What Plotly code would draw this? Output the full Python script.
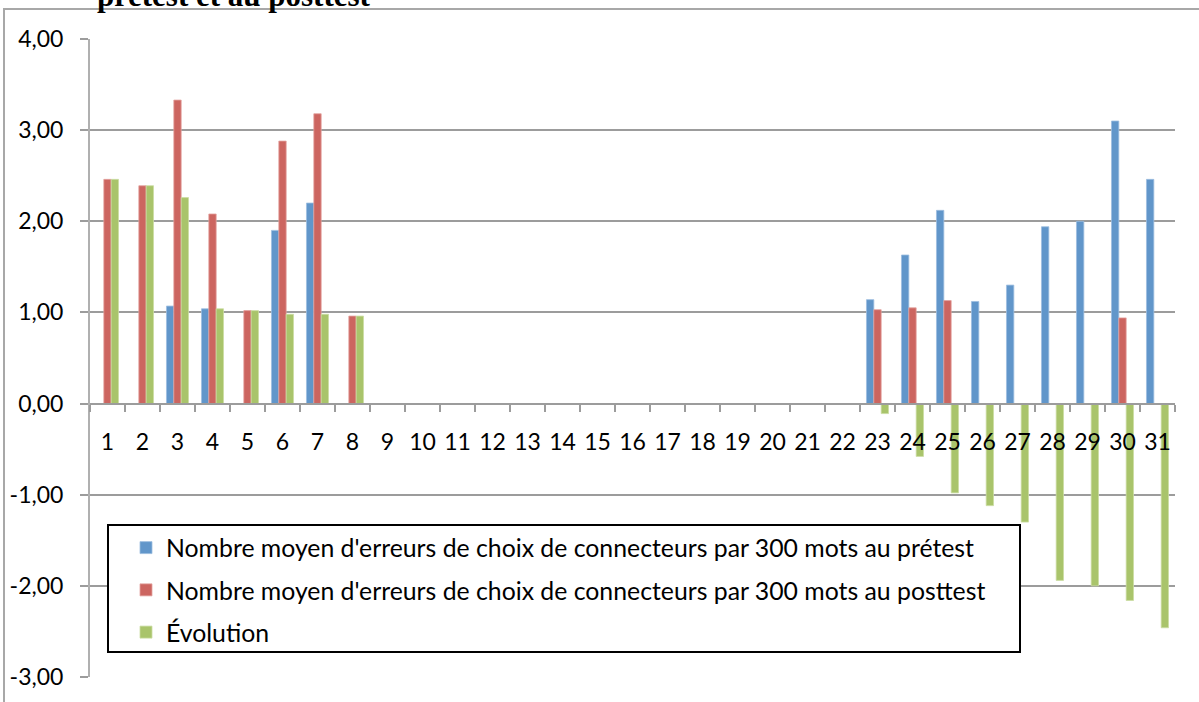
import plotly.graph_objects as go

categories = [str(i) for i in range(1, 32)]

pretest = [0, 0, 1.07, 1.04, 0, 1.90, 2.20, 0,
           0, 0, 0, 0, 0, 0, 0, 0, 0, 0, 0, 0, 0, 0,
           1.14, 1.63, 2.12, 1.12, 1.30, 1.94, 2.00, 3.10, 2.46]
posttest = [2.46, 2.39, 3.33, 2.08, 1.02, 2.88, 3.18, 0.96,
            0, 0, 0, 0, 0, 0, 0, 0, 0, 0, 0, 0, 0, 0,
            1.03, 1.05, 1.13, 0, 0, 0, 0, 0.94, 0]
evolution = [2.46, 2.39, 2.26, 1.04, 1.02, 0.98, 0.98, 0.96,
             0, 0, 0, 0, 0, 0, 0, 0, 0, 0, 0, 0, 0, 0,
             -0.11, -0.58, -0.98, -1.12, -1.30, -1.94, -2.00, -2.16, -2.46]

y_tick_values = [-3, -2, -1, 0, 1, 2, 3, 4]
y_tick_labels = ["-3,00", "-2,00", "-1,00", "0,00", "1,00", "2,00", "3,00", "4,00"]

series_names = [
    "Nombre moyen d'erreurs de choix de connecteurs par 300 mots au prétest",
    "Nombre moyen d'erreurs de choix de connecteurs par 300 mots au posttest",
    "Évolution",
]
colors = ["#6196CA", "#CC6560", "#A9C46B"]
edge_colors = ["#9DBEE0", "#E3A29E", "#CBDDA3"]

y_min, y_max = -3, 4

W, H = 1199, 702
ML, MR, MT, MB = 90, 24, 39, 25
PW, PH = W - ML - MR, H - MT - MB


def px_x(p):
    return (p - ML) / PW


def px_y(p):
    return (H - MB - p) / PH


FONT = "Lato"
GRID = "#9c9c9c"

fig = go.Figure()
for i, (name, vals) in enumerate(zip(series_names, [pretest, posttest, evolution])):
    fig.add_trace(go.Bar(
        x=categories, y=vals, name=name,
        marker=dict(color=colors[i], line=dict(color=edge_colors[i], width=0.8)),
        legendgroup=f"g{i}",
    ))

fig.update_layout(
    width=W, height=H,
    margin=dict(l=ML, r=MR, t=MT, b=MB, autoexpand=False),
    paper_bgcolor="white", plot_bgcolor="white",
    barmode="group", bargap=0.37, bargroupgap=0,
    font=dict(family=FONT, size=23, color="black"),
    showlegend=True,
    legend=dict(
        x=px_x(126), y=px_y(525), xanchor="left", yanchor="top",
        bgcolor="rgba(0,0,0,0)", borderwidth=0,
        font=dict(family=FONT, size=24.8, color="black"),
        tracegroupgap=7, traceorder="grouped",
    ),
    xaxis=dict(
        type="category", anchor="free",
        position=(0 - y_min) / (y_max - y_min),
        showline=True, linecolor=GRID, linewidth=2,
        ticks="outside", tickson="boundaries", ticklen=7, tickcolor=GRID, tickwidth=2,
        showgrid=False, ticklabelstandoff=18, tickangle=0,
        tickfont=dict(family=FONT, size=23, color="black"),
    ),
    yaxis=dict(
        range=[y_min, y_max], tickmode="array",
        tickvals=y_tick_values, ticktext=y_tick_labels,
        showline=True, linecolor="#b0b0b0", linewidth=2,
        ticks="outside", ticklen=8, tickcolor=GRID, tickwidth=2,
        showgrid=True, gridcolor=GRID, gridwidth=2, zeroline=False,
        ticklabelstandoff=12,
        tickfont=dict(family=FONT, size=23, color="black"),
    ),
    shapes=[
        dict(type="rect", xref="paper", yref="paper",
             x0=px_x(108), x1=px_x(1020), y0=px_y(652), y1=px_y(525),
             fillcolor="white", line=dict(color="black", width=2), layer="above"),
        dict(type="path", xref="paper", yref="paper",
             path=f"M {px_x(4)} {px_y(705)} L {px_x(4)} {px_y(9)} L {px_x(1202)} {px_y(9)}",
             line=dict(color="#a8a8a8", width=2), layer="above"),
    ],
    annotations=[
        dict(text="<b>prétest et au posttest</b>", xref="paper", yref="paper",
             x=px_x(95), y=px_y(15), xanchor="left", yanchor="bottom",
             showarrow=False,
             font=dict(family="Liberation Serif", size=31, color="black")),
    ],
)

fig.write_html(
    "out.html",
    config={"displayModeBar": False},
    post_script="document.body.style.margin='0';document.body.style.overflow='hidden';",
)
